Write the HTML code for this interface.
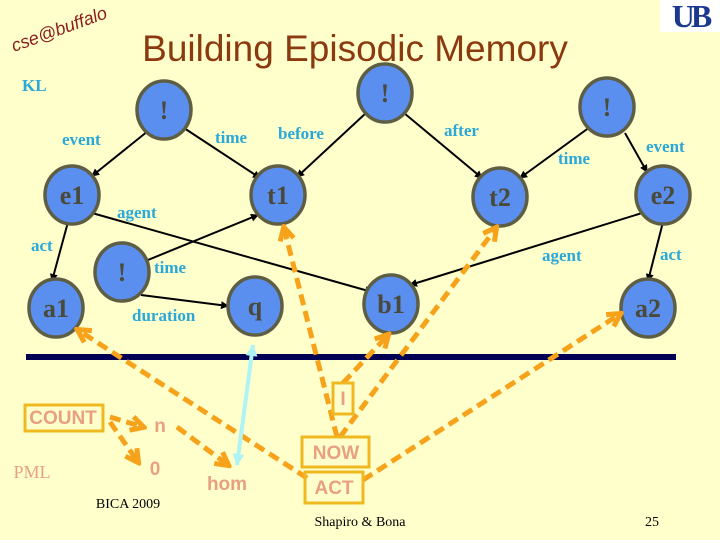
<!DOCTYPE html>
<html><head><meta charset="utf-8"><style>
html,body{margin:0;padding:0;background:#FFFFCC;}
svg{display:block}
.lb{font-family:"Liberation Serif",serif;font-weight:bold;fill:#2AA8D8;font-size:17px;}
.nd{fill:#5B8FEF;stroke:#5E5E45;stroke-width:3.5}
.nt{font-family:"Liberation Serif",serif;font-weight:bold;fill:#4A4A3A;font-size:26px;text-anchor:middle}
.ed{stroke:#000;stroke-width:2;fill:none;marker-end:url(#ab)}
.or{stroke:#F7A21B;stroke-width:5;stroke-dasharray:11 6;fill:none;marker-end:url(#ao)}
.bx{fill:none;stroke:#F0B820;stroke-width:3}
.pt{font-family:"Liberation Sans",sans-serif;font-weight:bold;fill:#E8A080;font-size:19px;text-anchor:middle}
</style></head><body>
<svg width="720" height="540" viewBox="0 0 720 540" xmlns="http://www.w3.org/2000/svg">
<defs>
<marker id="ab" markerWidth="8" markerHeight="8" refX="7" refY="4" orient="auto" markerUnits="userSpaceOnUse"><path d="M0,0 L8,4 L0,8 z" fill="#000"/></marker>
<marker id="ao" markerWidth="18" markerHeight="18" refX="14" refY="9" orient="auto" markerUnits="userSpaceOnUse"><path d="M2,2 L15,9 L2,16" fill="none" stroke="#F7A21B" stroke-width="5"/></marker>
<marker id="ac" markerWidth="14" markerHeight="14" refX="11" refY="7" orient="auto-start-reverse" markerUnits="userSpaceOnUse"><path d="M0,1 L12,7 L0,13 z" fill="#AEF4F4"/></marker>
</defs>
<rect width="720" height="540" fill="#FFFFCC"/>
<text x="0" y="0" transform="translate(14,52) rotate(-20)" font-family="Liberation Sans,sans-serif" font-style="italic" font-size="18" fill="#8B2020">cse@buffalo</text>
<text x="355" y="61" text-anchor="middle" font-family="Liberation Sans,sans-serif" font-size="37" fill="#8B3A0F">Building Episodic Memory</text>
<rect x="660" y="0" width="60" height="32" fill="#fff"/>
<text x="690" y="27" text-anchor="middle" font-family="Liberation Serif,serif" font-weight="bold" font-size="32" fill="#1B3A8F" letter-spacing="-4">UB</text>

<line class="ed" x1="148" y1="131" x2="92" y2="176"/>
<line class="ed" x1="184" y1="128" x2="260" y2="178"/>
<line class="ed" x1="366" y1="113" x2="297" y2="177"/>
<line class="ed" x1="404" y1="113" x2="482" y2="178"/>
<line class="ed" x1="590" y1="127" x2="520" y2="178"/>
<line class="ed" x1="625" y1="133" x2="647" y2="172"/>
<line class="ed" x1="92" y1="213" x2="372" y2="292"/>
<line class="ed" x1="143" y1="262" x2="258" y2="215"/>
<line class="ed" x1="642" y1="213" x2="410" y2="285"/>
<line class="ed" x1="68" y1="222" x2="52" y2="281"/>
<line class="ed" x1="663" y1="222" x2="648" y2="281"/>
<line class="ed" x1="141" y1="295" x2="228" y2="306"/>

<ellipse class="nd" cx="164" cy="110" rx="27" ry="29"/><text class="nt" x="164" y="119">!</text>
<ellipse class="nd" cx="385" cy="93" rx="27" ry="29"/><text class="nt" x="385" y="102">!</text>
<ellipse class="nd" cx="607" cy="107" rx="27" ry="29"/><text class="nt" x="607" y="116">!</text>
<ellipse class="nd" cx="72" cy="195" rx="27" ry="29"/><text class="nt" x="72" y="204">e1</text>
<ellipse class="nd" cx="278" cy="195" rx="27" ry="29"/><text class="nt" x="278" y="204">t1</text>
<ellipse class="nd" cx="500" cy="197" rx="27" ry="29"/><text class="nt" x="500" y="206">t2</text>
<ellipse class="nd" cx="663" cy="195" rx="27" ry="29"/><text class="nt" x="663" y="204">e2</text>
<ellipse class="nd" cx="122" cy="272" rx="27" ry="29"/><text class="nt" x="122" y="281">!</text>
<ellipse class="nd" cx="56" cy="308" rx="27" ry="29"/><text class="nt" x="56" y="317">a1</text>
<ellipse class="nd" cx="255" cy="306" rx="27" ry="29"/><text class="nt" x="255" y="315">q</text>
<ellipse class="nd" cx="391" cy="304" rx="27" ry="29"/><text class="nt" x="391" y="313">b1</text>
<ellipse class="nd" cx="648" cy="308" rx="27" ry="29"/><text class="nt" x="648" y="317">a2</text>

<text class="lb" x="22" y="91">KL</text>
<text class="lb" x="62" y="145">event</text>
<text class="lb" x="215" y="143">time</text>
<text class="lb" x="278" y="139">before</text>
<text class="lb" x="444" y="136">after</text>
<text class="lb" x="558" y="164">time</text>
<text class="lb" x="646" y="152">event</text>
<text class="lb" x="117" y="218">agent</text>
<text class="lb" x="31" y="251">act</text>
<text class="lb" x="154" y="273">time</text>
<text class="lb" x="542" y="261">agent</text>
<text class="lb" x="660" y="260">act</text>
<text class="lb" x="132" y="321">duration</text>

<rect x="26" y="354" width="650" height="6" fill="#000055"/>

<line class="or" x1="307" y1="478" x2="78" y2="330"/>
<line class="or" x1="363" y1="480" x2="620" y2="314"/>
<line class="or" x1="343" y1="383" x2="388" y2="335"/>
<line class="or" x1="337" y1="437" x2="284" y2="228"/>
<line class="or" x1="340" y1="437" x2="496" y2="228"/>
<line class="or" x1="110" y1="417" x2="143" y2="427"/>
<line class="or" x1="110" y1="422" x2="138" y2="462"/>
<line class="or" x1="177" y1="427" x2="228" y2="465"/>
<line stroke="#AEF4F4" stroke-width="4" x1="253" y1="345" x2="237" y2="465" marker-start="url(#ac)" marker-end="url(#ac)"/>

<rect class="bx" x="25" y="405" width="78" height="26"/>
<text class="pt" x="63" y="424" font-size="17">COUNT</text>
<rect class="bx" x="333" y="383" width="20" height="31"/>
<text class="pt" x="343" y="405">I</text>
<rect class="bx" x="302" y="437" width="67" height="30"/>
<text class="pt" x="336" y="459">NOW</text>
<rect class="bx" x="305" y="472" width="58" height="31"/>
<text class="pt" x="334" y="494">ACT</text>
<text class="pt" x="160" y="432">n</text>
<text class="pt" x="155" y="475">0</text>
<text class="pt" x="227" y="490" font-weight="normal">hom</text>
<text x="32" y="478" text-anchor="middle" font-family="Liberation Serif,serif" font-size="18" fill="#E8A080">PML</text>
<text x="128" y="508" text-anchor="middle" font-family="Liberation Serif,serif" font-size="14" fill="#000">BICA 2009</text>
<text x="360" y="526" text-anchor="middle" font-family="Liberation Serif,serif" font-size="14" fill="#000">Shapiro &amp; Bona</text>
<text x="652" y="526" text-anchor="middle" font-family="Liberation Serif,serif" font-size="14" fill="#000">25</text>
</svg>
</body></html>
